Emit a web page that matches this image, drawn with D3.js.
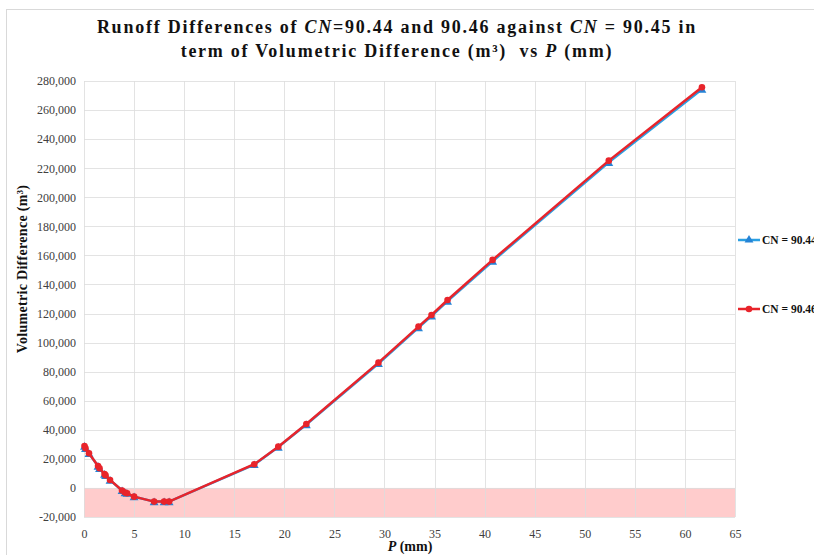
<!DOCTYPE html>
<html>
<head>
<meta charset="utf-8">
<script src="https://cdn.jsdelivr.net/npm/d3@7"></script>
<style>
  body { margin: 0; background: #fff; }
  text { font-family: "Liberation Serif", "Times New Roman", serif; }
</style>
</head>
<body>
<script>
// precipitation P (mm)
const rainfall = [0.05, 0.15, 0.5, 1.4, 1.55, 2.05, 2.15, 2.6, 3.8, 4.1, 4.3, 5.0, 7.0, 8.0, 8.5,
  17.0, 19.4, 22.2, 29.4, 33.4, 34.7, 36.3, 40.8, 52.4, 61.7];
// volumetric differences (m3)
const cn9044 = [28700, 27100, 23700, 15000, 13400, 9500, 8600, 5400, -1800, -3200, -3700, -6000, -9400, -9400, -9400,
  16100, 28100, 43600, 85600, 110300, 118300, 128500, 156000, 224000, 274300];
const cn9046 = [28900, 27300, 23900, 15100, 13500, 9600, 8700, 5500, -1800, -3200, -3700, -6000, -9400, -9400, -9400,
  16300, 28400, 44000, 86200, 111000, 119000, 129300, 156900, 225200, 275700];
const xTicks = [0, 5, 10, 15, 20, 25, 30, 35, 40, 45, 50, 55, 60, 65];
const yTicks = [-20000, 0, 20000, 40000, 60000, 80000, 100000, 120000, 140000, 160000,
  180000, 200000, 220000, 240000, 260000, 280000];
const seriesNames = ["CN = 90.44", "CN = 90.46"];

const W = 814, H = 555;
const plotL = 84, plotR = 735, plotT = 81, plotB = 517;

const svg = d3.select("body").append("svg")
  .attr("width", W)
  .attr("height", H);

// outer chart border
svg.append("rect")
  .attr("x", 6.5).attr("y", 9.5)
  .attr("width", W).attr("height", H)
  .attr("fill", "none")
  .attr("stroke", "#d9d9d9");

const x = d3.scaleLinear().domain([0, 65]).range([plotL, plotR]);
const y = d3.scaleLinear().domain([-20000, 280000]).range([plotB, plotT]);

// negative zone shading
svg.append("rect")
  .attr("x", x(0)).attr("y", y(0))
  .attr("width", x(65) - x(0))
  .attr("height", y(-20000) - y(0))
  .attr("fill", "#ffcccc");

// gridlines
svg.append("g").selectAll("line").data(yTicks).join("line")
  .attr("x1", plotL).attr("x2", plotR)
  .attr("y1", d => Math.round(y(d)) + 0.5).attr("y2", d => Math.round(y(d)) + 0.5)
  .attr("stroke", "#dcdcdc").attr("stroke-opacity", 0.8);
svg.append("g").selectAll("line").data(xTicks).join("line")
  .attr("y1", plotT).attr("y2", plotB)
  .attr("x1", d => Math.round(x(d)) + 0.5).attr("x2", d => Math.round(x(d)) + 0.5)
  .attr("stroke", "#dcdcdc").attr("stroke-opacity", 0.8);

// axes (labels only), plain hyphen for negatives
const fmt = d3.formatLocale({ decimal: ".", thousands: ",", grouping: [3], currency: ["", ""], minus: "-" });
const xAxis = svg.append("g")
  .attr("transform", `translate(0,${plotB})`)
  .call(d3.axisBottom(x).tickValues(xTicks).tickSize(0).tickPadding(12).tickFormat(fmt.format("d")));
const yAxis = svg.append("g")
  .attr("transform", `translate(${plotL},0)`)
  .call(d3.axisLeft(y).tickValues(yTicks).tickSize(0).tickPadding(8).tickFormat(fmt.format(",")));
[xAxis, yAxis].forEach(a => {
  a.select(".domain").remove();
  a.selectAll("text")
    .attr("font-family", "'Liberation Serif', serif")
    .attr("font-size", 12)
    .attr("fill", "#404040");
});

const pts = (vals) => rainfall.map((p, i) => [p, vals[i]]);
const line = d3.line().x(d => x(d[0])).y(d => y(d[1]));

const blue = "#2a9fe2", blueMark = "#2583d6", red = "#e8242b";

// CN = 90.44
svg.append("path")
  .attr("d", line(pts(cn9044)))
  .attr("fill", "none").attr("stroke", blue).attr("stroke-width", 2.5);
const tri = d3.symbol().type(d3.symbolTriangle).size(34);
svg.append("g").selectAll("path").data(pts(cn9044)).join("path")
  .attr("d", tri)
  .attr("transform", d => `translate(${x(d[0])},${y(d[1]) + 1})`)
  .attr("fill", blueMark);

// CN = 90.46
svg.append("path")
  .attr("d", line(pts(cn9046)))
  .attr("fill", "none").attr("stroke", red).attr("stroke-width", 2.5);
svg.append("g").selectAll("circle").data(pts(cn9046)).join("circle")
  .attr("cx", d => x(d[0])).attr("cy", d => y(d[1]))
  .attr("r", 3.3)
  .attr("fill", red);

// legend (runs off the right edge, as in the original)
const legend = svg.append("g");
const legY = [240, 309];
seriesNames.forEach((name, i) => {
  const g = legend.append("g").attr("transform", `translate(738,${legY[i]})`);
  g.append("line").attr("x1", 0).attr("x2", 22)
    .attr("stroke", i === 0 ? blue : red).attr("stroke-width", 2.5);
  if (i === 0) {
    g.append("path").attr("d", tri).attr("transform", "translate(11,0)").attr("fill", blueMark);
  } else {
    g.append("circle").attr("cx", 11).attr("r", 3.3).attr("fill", red);
  }
  g.append("text").attr("x", 24).attr("y", 4)
    .attr("font-size", 11.5).attr("font-weight", "bold").attr("fill", "#111")
    .text(name);
});

// title
const title = svg.append("text")
  .attr("text-anchor", "middle")
  .attr("font-size", 18)
  .attr("font-weight", "bold")
  .attr("letter-spacing", 1.75)
  .style("white-space", "pre")
  .attr("fill", "#111");
const t1 = title.append("tspan").attr("x", 397).attr("y", 33);
t1.append("tspan").text("Runoff Differences of ");
t1.append("tspan").attr("font-style", "italic").text("CN");
t1.append("tspan").text("=90.44 and 90.46 against ");
t1.append("tspan").attr("font-style", "italic").text("CN");
t1.append("tspan").text(" = 90.45 in");
const t2 = title.append("tspan").attr("x", 397).attr("y", 57);
t2.append("tspan").text("term of Volumetric Difference (m³)  vs ");
t2.append("tspan").attr("font-style", "italic").text("P");
t2.append("tspan").text(" (mm)");

// axis titles
const xt = svg.append("text")
  .attr("x", 410).attr("y", 551)
  .attr("text-anchor", "middle")
  .attr("font-size", 14).attr("font-weight", "bold").attr("fill", "#111");
xt.append("tspan").attr("font-style", "italic").text("P");
xt.append("tspan").text(" (mm)");

svg.append("text")
  .attr("transform", "translate(27,269) rotate(-90)")
  .attr("text-anchor", "middle")
  .attr("font-size", 14).attr("font-weight", "bold")
  .attr("letter-spacing", 0.3)
  .attr("fill", "#111")
  .text("Volumetric Difference (m³)");
</script>
</body>
</html>
